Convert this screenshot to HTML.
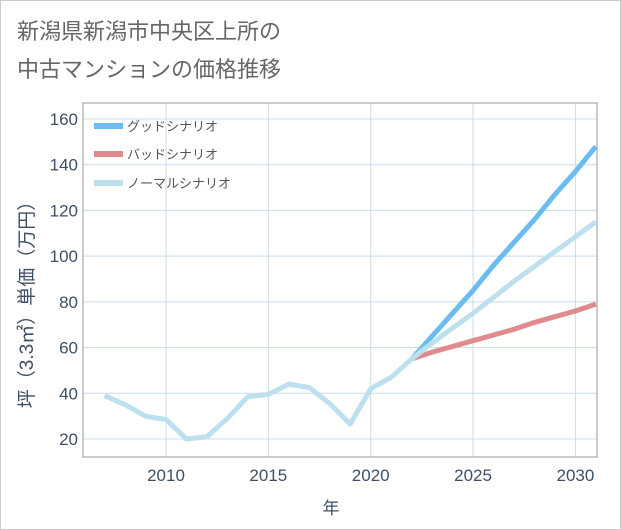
<!DOCTYPE html>
<html><head><meta charset="utf-8">
<style>
body{margin:0;background:#fff;}
#wrap{position:relative;width:619px;height:528px;border:1px solid #ccc;background:#fff;font-family:"Liberation Sans","Noto Sans CJK JP",sans-serif;}
</style></head>
<body>
<div id="wrap">
<svg width="621" height="530" style="position:absolute;left:-1px;top:-1px">
<text x="17" y="39" font-size="22" fill="#666" font-family="Liberation Sans,Noto Sans CJK JP,sans-serif">新潟県新潟市中央区上所の</text>
<text x="17" y="77" font-size="22" fill="#666" font-family="Liberation Sans,Noto Sans CJK JP,sans-serif">中古マンションの価格推移</text>
<g id="grid"></g>
<rect x="83" y="103" width="514" height="354" fill="none" stroke="#999" stroke-width="1"/>
<g id="ticks"></g>
<g id="lines"></g>
<text x="331" y="514" font-size="17" fill="#3d4f66" text-anchor="middle" font-family="Liberation Sans,Noto Sans CJK JP,sans-serif">年</text>
<text transform="translate(33,300) rotate(-90)" font-size="19" fill="#3d4f66" text-anchor="middle" font-family="Liberation Sans,Noto Sans CJK JP,sans-serif">坪（3.3㎡）単価（万円）</text>
<g>
<g><rect x="94" y="123" width="29" height="6" fill="#6bbcf0"/><text x="127" y="131" font-size="13" fill="#555" font-family="Liberation Sans,Noto Sans CJK JP,sans-serif">グッドシナリオ</text></g>
<g><rect x="94" y="151" width="29" height="6" fill="#e08a8e"/><text x="127" y="159" font-size="13" fill="#555" font-family="Liberation Sans,Noto Sans CJK JP,sans-serif">バッドシナリオ</text></g>
<g><rect x="94" y="180" width="29" height="6" fill="#bde0ee"/><text x="127" y="188" font-size="13" fill="#555" font-family="Liberation Sans,Noto Sans CJK JP,sans-serif">ノーマルシナリオ</text></g>
</g>
</svg>
</div>
<script>
const histYears=[2007,2008,2009,2010,2011,2012,2013,2014,2015,2016,2017,2018,2019,2020,2021,2022];
const histValues=[39,35,30,28.5,20,21,29,38.5,39.5,44,42.5,35.5,26.5,42,47,55];
const fcYears=[2022,2023,2024,2025,2026,2027,2028,2029,2030,2031];
const goodValues=[55,65,75,85,96,106,116,127,137,148];
const badValues=[55,58,60.5,63,65.5,68,71,73.5,76,79];
const normalValues=[55,62,68.5,75,82,89,95.5,102,108.5,115];
const yTicks=[20,40,60,80,100,120,140,160];
const xTicks=[2010,2015,2020,2025,2030];
const NS="http://www.w3.org/2000/svg";
function X(yr){return 166+(yr-2010)*20.47;}
function Y(v){return 439-(v-20)*(320/140);}
const grid=document.getElementById('grid'),ticks=document.getElementById('ticks'),lines=document.getElementById('lines');
yTicks.forEach(v=>{
 const l=document.createElementNS(NS,'line');
 
 
 l.setAttribute('x1',83);l.setAttribute('x2',597);l.setAttribute('y1',Y(v));l.setAttribute('y2',Y(v));
 l.setAttribute('stroke','#c9dcea');grid.appendChild(l);
 const t=document.createElementNS(NS,'text');
 
 
 t.setAttribute('x',78);t.setAttribute('y',Y(v)+6);t.setAttribute('text-anchor','end');
 t.setAttribute('font-size','17');t.setAttribute('fill','#3d4f66');t.textContent=v;ticks.appendChild(t);
});
xTicks.forEach(v=>{
 const l=document.createElementNS(NS,'line');
 
 
 l.setAttribute('x1',X(v));l.setAttribute('x2',X(v));l.setAttribute('y1',103);l.setAttribute('y2',457);
 l.setAttribute('stroke','#c9dcea');grid.appendChild(l);
 const t=document.createElementNS(NS,'text');
 
 
 t.setAttribute('x',X(v));t.setAttribute('y',481);t.setAttribute('text-anchor','middle');
 t.setAttribute('font-size','17');t.setAttribute('fill','#3d4f66');t.textContent=v;ticks.appendChild(t);
});
function line(xs,vs,color,name){
 const p=document.createElementNS(NS,'polyline');
 
 
 p.setAttribute('points',xs.map((x,i)=>X(x)+','+Y(vs[i])).join(' '));
 p.setAttribute('fill','none');p.setAttribute('stroke',color);p.setAttribute('stroke-width','5');
 p.setAttribute('stroke-linejoin','round');lines.appendChild(p);
}
line(fcYears,badValues,'#e08a8e','bad-scenario-line');
line(fcYears,goodValues,'#6bbcf0','good-scenario-line');
line(fcYears,normalValues,'#bde0ee','normal-scenario-line');
line(histYears,histValues,'#bde0ee','history-line');
</script>
</body></html>
